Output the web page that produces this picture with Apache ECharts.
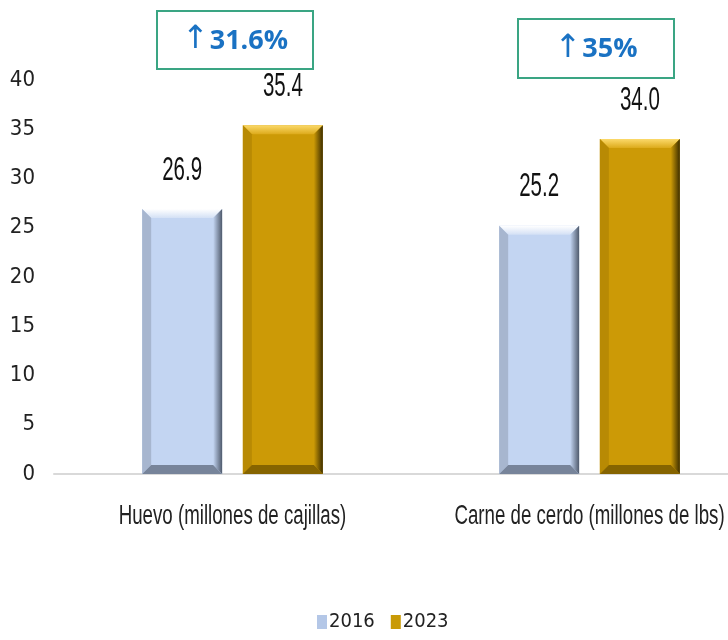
<!DOCTYPE html>
<html>
<head>
<meta charset="utf-8">
<script src="https://cdn.jsdelivr.net/npm/echarts@6/dist/echarts.min.js"></script>
<style>
  html, body { margin: 0; padding: 0; background: #fff; }
  #chart { width: 728px; height: 640px; }
</style>
</head>
<body>
<div id="chart"></div>
<script>
const categories = ['Huevo (millones de cajillas)', 'Carne de cerdo (millones de lbs)']
const years = ['2016', '2023']
const values2016 = [26.9, 25.2]
const values2023 = [35.4, 34.0]
const growthValues = ['31.6%', '35%']

const CONDENSED = "'DejaVu Sans Condensed', 'Liberation Sans Narrow', 'Liberation Sans', sans-serif"
const ARIAL = "'Liberation Sans', Arial, sans-serif"

// face, top bevel, left bevel, right bevel, bottom bevel
const palettes = [
  { face: '#c3d5f2', top: ['#ffffff', '#d3e0f5'], left: '#a7b6cf', right: '#4f5a6c', bottom: '#77849a', legend: '#b4c7e7' },
  { face: '#cc9a06', top: ['#fbd96a', '#dcaa1a'], left: '#b88a04', right: '#3d2e00', bottom: '#866400', legend: '#c99a06' },
]

const chart = echarts.init(document.getElementById('chart'))

const makeRender = (seriesIdx) => (params, api) => {
  const x = api.value(0)
  const v = api.value(1)
  const base = api.coord([x, 0])
  const top = api.coord([x, v])
  const band = api.size([1, 0])[0]
  const w = band * 0.224
  const gap = band * 0.058
  const cx = base[0] + (seriesIdx === 0 ? -1 : 1) * (w + gap) / 2
  const x0 = cx - w / 2
  const x1 = cx + w / 2
  const y0 = top[1]
  const y1 = base[1]
  const b = 9
  const p = palettes[seriesIdx]
  return {
    type: 'group',
    children: [
      { type: 'rect', shape: { x: x0, y: y0, width: w, height: y1 - y0 }, style: { fill: p.face } },
      {
        type: 'polygon',
        shape: { points: [[x0, y0], [x1, y0], [x1 - b, y0 + b], [x0 + b, y0 + b]] },
        style: {
          fill: new echarts.graphic.LinearGradient(0, 0, 0, 1, [
            { offset: 0, color: p.top[0] },
            { offset: 1, color: p.top[1] },
          ]),
        },
      },
      {
        type: 'polygon',
        shape: { points: [[x0, y0], [x0 + b, y0 + b], [x0 + b, y1 - b], [x0, y1]] },
        style: { fill: p.left },
      },
      {
        type: 'polygon',
        shape: { points: [[x1, y0], [x1 - b, y0 + b], [x1 - b, y1 - b], [x1, y1]] },
        style: {
          fill: new echarts.graphic.LinearGradient(0, 0, 1, 0, [
            { offset: 0, color: p.face },
            { offset: 1, color: p.right },
          ]),
        },
      },
      {
        type: 'polygon',
        shape: { points: [[x0, y1], [x0 + b, y1 - b], [x1 - b, y1 - b], [x1, y1]] },
        style: { fill: p.bottom },
      },
      {
        type: 'text',
        x: cx,
        y: y0 - 22,
        scaleX: 0.82,
        scaleY: 1.3,
        style: {
          text: v.toFixed(1),
          x: 0,
          y: 0,
          align: 'center',
          verticalAlign: 'bottom',
          fill: '#111',
          font: '25px ' + ARIAL,
        },
      },
    ],
  }
}

// category names under the axis (stretched like the original)
const renderCategory = (params, api) => {
  const x = api.value(0)
  const base = api.coord([x, 0])
  return {
    type: 'text',
    x: base[0],
    y: base[1] + 42,
    scaleX: 0.85,
    scaleY: 1.28,
    style: {
      text: categories[x],
      x: 0,
      y: 0,
      align: 'center',
      verticalAlign: 'middle',
      fill: '#222',
      font: '22px ' + ARIAL,
    },
  }
}

const seriesData = [values2016, values2023]

chart.setOption({
  animation: false,
  grid: { left: 54, width: 714, top: 80, height: 394, outerBoundsMode: 'none' },
  legend: {
    bottom: 3,
    left: 312,
    itemWidth: 10,
    itemHeight: 14,
    itemGap: 16,
    textStyle: { fontFamily: CONDENSED, fontSize: 20, color: '#222', padding: [0, 0, 0, -3] },
    data: years.map((y, i) => ({ name: y, icon: 'rect', itemStyle: { color: palettes[i].legend } })),
  },
  xAxis: {
    type: 'category',
    data: categories,
    axisLine: { show: true, lineStyle: { color: '#d9d9d9', width: 2 } },
    axisTick: { show: false },
    axisLabel: { show: false },
    splitLine: { show: false },
  },
  yAxis: {
    type: 'value',
    min: 0,
    max: 40,
    interval: 5,
    axisLine: { show: false },
    axisTick: { show: false },
    splitLine: { show: false },
    axisLabel: { color: '#222', fontFamily: CONDENSED, fontSize: 22, margin: 19 },
  },
  series: [
    ...years.map((y, i) => ({
      name: y,
      type: 'custom',
      itemStyle: { color: palettes[i].legend },
      renderItem: makeRender(i),
      encode: { x: 0, y: 1 },
      data: seriesData[i].map((v, k) => [k, v]),
    })),
    {
      name: 'categorias',
      type: 'custom',
      silent: true,
      renderItem: renderCategory,
      encode: { x: 0, y: 1 },
      data: categories.map((c, k) => [k, 0]),
    },
  ],
  graphic: [
    { left: 156, top: 10, width: 156, height: 58 },
    { left: 517, top: 18, width: 156, height: 59 },
  ].map((box, i) => ({
    type: 'group',
    left: box.left,
    top: box.top,
    children: [
      {
        type: 'rect',
        shape: { x: 0, y: 0, width: box.width, height: box.height },
        style: { fill: '#fff', stroke: '#3aa583', lineWidth: 2 },
      },
      {
        type: 'text',
        x: box.width / 2,
        y: box.height / 2 + 1,
        style: {
          text: '{a|↑}{b|' + growthValues[i] + '}',
          align: 'center',
          verticalAlign: 'middle',
          rich: {
            a: { fill: '#1a72c3', font: "32px 'DejaVu Sans', sans-serif", padding: [0, 1, 2, 0] },
            b: { fill: '#1a72c3', font: "bold 27px 'Open Sans', 'Noto Sans', sans-serif" },
          },
        },
      },
    ],
  })),
})
</script>
</body>
</html>
